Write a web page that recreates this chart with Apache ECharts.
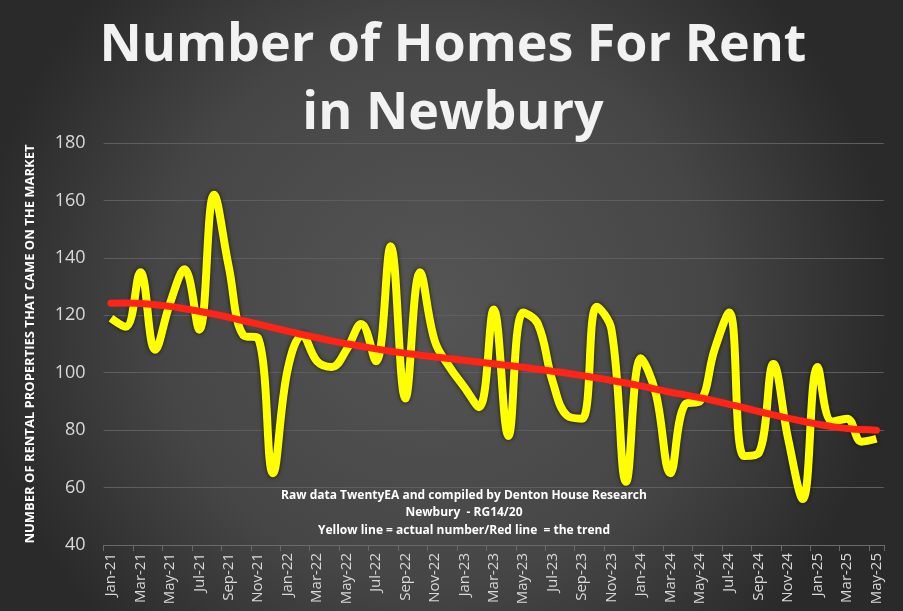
<!DOCTYPE html>
<html><head><meta charset="utf-8">
<script src="https://cdn.jsdelivr.net/npm/echarts@6/dist/echarts.min.js"></script>
<style>html,body{margin:0;padding:0;background:#333;}#c{width:903px;height:611px;}</style>
</head><body><div id="c"></div>
<script>
const months = ["Jan-21","Feb-21","Mar-21","Apr-21","May-21","Jun-21","Jul-21","Aug-21","Sep-21","Oct-21","Nov-21","Dec-21",
"Jan-22","Feb-22","Mar-22","Apr-22","May-22","Jun-22","Jul-22","Aug-22","Sep-22","Oct-22","Nov-22","Dec-22",
"Jan-23","Feb-23","Mar-23","Apr-23","May-23","Jun-23","Jul-23","Aug-23","Sep-23","Oct-23","Nov-23","Dec-23",
"Jan-24","Feb-24","Mar-24","Apr-24","May-24","Jun-24","Jul-24","Aug-24","Sep-24","Oct-24","Nov-24","Dec-24",
"Jan-25","Feb-25","Mar-25","Apr-25","May-25"];
const actual = [119,116,135,108,124,136,115,162,137,113,112,65,
101,113,104,102,108,117,104,144,91,135,111,102,
95,88,122,78,121,117,97,85,84,123,115,62,
105,93,65,89,90,108,121,71,72,103,77,56,
102,83,84,76,77];
const trend = [124.2,124.3,124.1,123.7,123.1,122.3,121.4,120.4,119.3,118.1,116.9,115.7,
114.5,113.3,112.2,111.1,110.1,109.2,108.3,107.5,106.8,106.1,105.5,104.9,
104.3,103.7,103.1,102.5,101.9,101.2,100.5,99.8,99.0,98.2,97.3,96.4,
95.4,94.3,93.2,92.3,91.3,90.2,89.0,87.8,86.5,85.3,84.2,83.1,
82.1,81.2,80.6,80.2,80.0];
const yTicks = {min:40, max:180, interval:20};
const titleLines = ["Number of Homes For Rent","in Newbury"];
const notes = ["Raw data TwentyEA and compiled by Denton House Research","Newbury  - RG14/20","Yellow line = actual number/Red line  = the trend"];

const chart = echarts.init(document.getElementById('c'));
const noteStyle = t => ({text:t, fill:'#ffffff', font:'bold 12px "Open Sans"', align:'center', verticalAlign:'middle'});
chart.setOption({
  backgroundColor: new echarts.graphic.RadialGradient(0.48, 0.5, 0.75, [
    {offset:0, color:'#555555'},{offset:0.6, color:'#464646'},{offset:1, color:'#2a2a2a'}]),
  animation:false,
  grid:{left:103.6, right:19.2, top:143, bottom:66},
  graphic:[
    {type:'text', x:453, y:46, style:{text:titleLines[0], fill:'#f2f2f2', font:'bold 52px "Open Sans"', align:'center', verticalAlign:'middle'}},
    {type:'text', x:453, y:114, style:{text:titleLines[1], fill:'#f2f2f2', font:'bold 52px "Open Sans"', align:'center', verticalAlign:'middle'}},
    {type:'text', x:464, y:496, style:noteStyle(notes[0])},
    {type:'text', x:464, y:513, style:noteStyle(notes[1])},
    {type:'text', x:464, y:531, style:noteStyle(notes[2])}
  ],
  xAxis:{type:'category', data:months, boundaryGap:true,
    axisLine:{lineStyle:{color:'#6a6a6a'}},
    axisTick:{show:true, interval:1, length:6, lineStyle:{color:'#6a6a6a'}},
    axisLabel:{interval:1, rotate:90, color:'#d9d9d9', fontSize:15, fontFamily:'Open Sans', margin:8}},
  yAxis:{type:'value', min:yTicks.min, max:yTicks.max, interval:yTicks.interval,
    name:'NUMBER OF RENTAL PROPERTIES THAT CAME ON THE MARKET', nameLocation:'middle', nameGap:67, nameRotate:90,
    nameTextStyle:{color:'#ffffff', fontWeight:'bold', fontSize:13, fontFamily:'Open Sans'},
    axisLine:{show:false}, axisTick:{show:false},
    axisLabel:{color:'#d9d9d9', fontSize:18, fontFamily:'Open Sans', margin:18},
    splitLine:{lineStyle:{color:'#5e5e5e', width:1}}},
  series:[
    {type:'line', data:actual, smooth:0.4, symbol:'none',
      lineStyle:{color:'#ffff00', width:8, shadowColor:'rgba(0,0,0,0.75)', shadowBlur:4}, z:2},
    {type:'line', data:trend, smooth:true, symbol:'none',
      lineStyle:{color:'#ff2415', width:7, cap:'round'}, z:3}
  ]
});
</script></body></html>
